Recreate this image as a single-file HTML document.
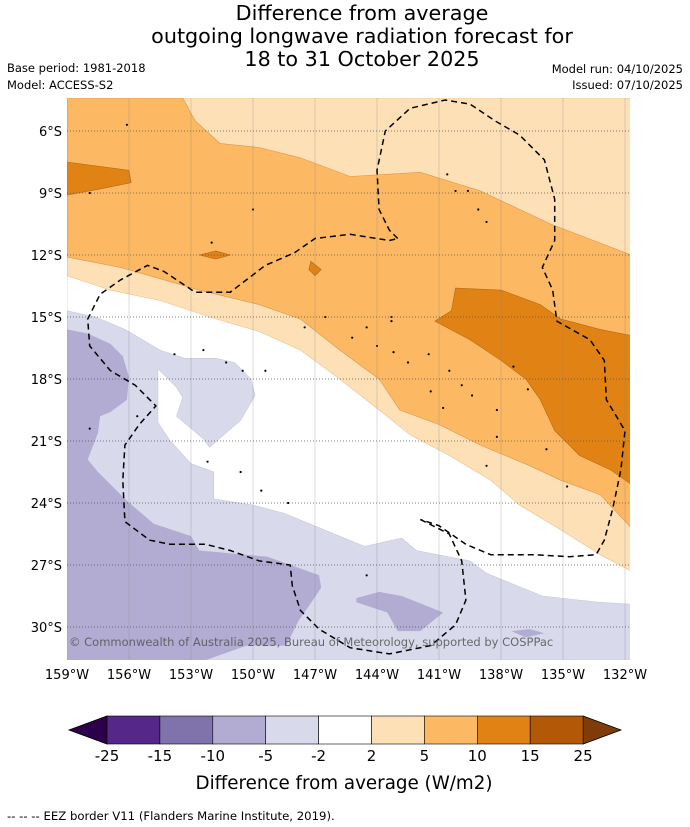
<!DOCTYPE html>
<html><head><meta charset="utf-8"><style>
body{margin:0;background:#fff;font-family:"DejaVu Sans",sans-serif}
svg{display:block}
</style></head><body>
<svg id="chart" width="690" height="827" viewBox="0 0 690 827" xmlns="http://www.w3.org/2000/svg" font-family="DejaVu Sans, sans-serif">
<g font-size="20.7" text-anchor="middle" fill="#000">
<text x="362" y="20">Difference from average</text>
<text x="362" y="43">outgoing longwave radiation forecast for</text>
<text x="362" y="66">18 to 31 October 2025</text>
</g>
<g font-size="11.5" fill="#000">
<text x="7" y="72">Base period: 1981-2018</text>
<text x="7" y="89">Model: ACCESS-S2</text>
<text x="683" y="73" text-anchor="end">Model run: 04/10/2025</text>
<text x="683" y="89" text-anchor="end">Issued: 07/10/2025</text>
</g>
<defs><clipPath id="mapclip"><rect x="67" y="98" width="563" height="562"/></clipPath></defs>
<g id="map" clip-path="url(#mapclip)">
<rect x="67" y="98" width="563" height="562" fill="#fff"/>
</g>
<g id="axes"></g>
<g id="cbar"></g>
<text x="344" y="789" font-size="18.3" text-anchor="middle">Difference from average (W/m2)</text>
<text x="7" y="820" font-size="11.7">--  --  -- EEZ border V11 (Flanders Marine Institute, 2019).</text>
</svg>
<script>
const lonTicks=[-159,-156,-153,-150,-147,-144,-141,-138,-135,-132];
const latTicks=[-6,-9,-12,-15,-18,-21,-24,-27,-30];
const levelLabels=["-25","-15","-10","-5","-2","2","5","10","15","25"];
const lightOrange=[[-159,-4.4],[-131.7,-4.4],[-131.7,-27.3],[-133.2,-26.5],[-135.1,-25.3],[-137.1,-24.1],[-138.5,-22.9],[-140.5,-21.7],[-142.4,-20.7],[-143.9,-19.5],[-145.8,-18.0],[-147.7,-16.6],[-149.7,-15.7],[-152.1,-15.0],[-154.5,-14.2],[-156.9,-13.7],[-159,-13.0]];
const midOrange=[[-159,-4.4],[-153.4,-4.4],[-152.8,-5.5],[-151.6,-6.6],[-149.7,-6.8],[-147.7,-7.3],[-145.3,-8.2],[-141.9,-8.0],[-139.0,-8.9],[-135.6,-10.5],[-131.7,-12.0],[-131.7,-25.2],[-133.2,-23.6],[-135.1,-22.9],[-136.6,-22.2],[-139.0,-21.2],[-141.0,-20.2],[-142.9,-19.5],[-143.9,-18.0],[-145.8,-16.6],[-147.7,-15.1],[-149.7,-14.4],[-152.6,-13.7],[-156.4,-12.6],[-159,-12.1]];
const darkOrangeEast=[[-140.2,-13.6],[-138.0,-13.7],[-136.1,-14.4],[-135.1,-15.1],[-133.2,-15.6],[-131.7,-15.9],[-131.7,-23.1],[-132.7,-22.4],[-134.2,-21.7],[-135.4,-20.5],[-136.1,-19.0],[-136.8,-18.0],[-138.0,-17.1],[-139.5,-16.1],[-141.2,-15.2],[-140.4,-14.7]];
const darkOrangeWest=[[-159,-7.5],[-156.0,-7.9],[-155.9,-8.5],[-157.4,-8.8],[-159,-9.1]];
const darkOrangeSmall=[[-152.6,-12.0],[-151.8,-11.8],[-151.1,-12.0],[-151.8,-12.2]];
const darkOrangeSmall2=[[-147.2,-12.3],[-146.7,-12.7],[-147.0,-13.0],[-147.3,-12.7]];
const lightPurple=[[-159,-14.7],[-157.6,-15.0],[-156.2,-15.6],[-154.5,-16.6],[-153.3,-17.0],[-151.8,-17.0],[-150.9,-17.2],[-150.1,-18.0],[-149.9,-18.8],[-150.6,-20.0],[-152.1,-21.3],[-152.4,-20.9],[-153.7,-19.8],[-153.4,-18.9],[-153.7,-18.4],[-154.6,-17.5],[-154.6,-20.1],[-154.0,-21.0],[-153.0,-22.1],[-151.9,-22.5],[-151.9,-22.9],[-151.9,-23.8],[-150.0,-24.1],[-148.5,-24.5],[-146.8,-25.2],[-144.6,-26.1],[-142.8,-25.7],[-142.1,-26.3],[-139.5,-26.8],[-138.7,-27.4],[-136.0,-28.5],[-133.3,-28.8],[-131.7,-28.9],[-131.7,-31.6],[-159,-31.6]];
const midPurple=[[-159,-15.6],[-158.0,-15.8],[-156.9,-16.3],[-156.3,-16.9],[-156.0,-17.9],[-156.1,-19.0],[-156.9,-19.6],[-157.4,-19.8],[-157.5,-20.6],[-158.0,-21.9],[-157.5,-22.5],[-156.1,-23.9],[-154.8,-25.0],[-153.0,-25.6],[-152.6,-26.3],[-149.3,-26.6],[-146.8,-27.5],[-146.7,-28.1],[-147.1,-28.7],[-147.8,-29.7],[-148.4,-30.9],[-150.3,-30.9],[-152.3,-31.6],[-159,-31.6]];
const midPurpleBlob=[[-145.0,-28.6],[-143.9,-28.3],[-142.8,-28.5],[-140.8,-29.3],[-141.9,-30.2],[-143.0,-30.2],[-143.5,-29.3],[-145.0,-28.8]];
const midPurpleBlob2=[[-137.5,-30.2],[-136.6,-30.1],[-135.9,-30.3],[-136.8,-30.5]];
const eezNorth=[[-143.0,-11.2],[-143.4,-10.8],[-143.9,-9.8],[-144.0,-7.9],[-143.6,-6.0],[-142.4,-4.9],[-140.7,-4.5],[-139.5,-4.7],[-138.3,-5.5],[-137.1,-6.2],[-135.9,-7.4],[-135.4,-9.3],[-135.4,-11.3],[-136.0,-12.6],[-135.5,-13.7],[-135.3,-15.2],[-133.7,-16.1],[-133.0,-17.1],[-132.9,-19.0],[-132.0,-20.5],[-132.2,-22.4],[-132.6,-24.3],[-133.0,-25.8],[-133.4,-26.5],[-134.7,-26.6],[-136.4,-26.5],[-138.5,-26.5],[-139.7,-26.0],[-141.0,-25.1],[-141.9,-24.8]];
const eezSouth=[[-141.9,-24.8],[-140.5,-25.5],[-139.9,-26.8],[-139.7,-28.7],[-140.2,-29.9],[-141.4,-30.9],[-143.4,-31.3],[-145.3,-31.0],[-146.8,-30.1],[-147.7,-29.2],[-148.1,-28.0],[-148.2,-27.0],[-149.7,-26.8],[-151.1,-26.3],[-152.3,-26.0],[-154.0,-26.0],[-155.0,-25.8],[-156.2,-24.9],[-156.3,-22.9],[-156.2,-21.2],[-155.5,-20.2],[-154.7,-19.3],[-155.7,-18.3],[-156.9,-17.6],[-157.9,-16.4],[-158.0,-15.1],[-157.4,-13.9],[-156.4,-13.2],[-155.1,-12.5],[-154.3,-12.8],[-152.8,-13.8],[-151.1,-13.8],[-149.4,-12.5],[-148.0,-11.9],[-147.0,-11.2],[-145.3,-11.0],[-143.4,-11.3],[-143.0,-11.2]];
const islands=[[-143.3,-15.2],[-144.5,-15.5],[-145.2,-16.0],[-144.0,-16.4],[-143.2,-16.7],[-142.5,-17.2],[-141.5,-16.8],[-140.5,-17.6],[-139.9,-18.3],[-141.4,-18.6],[-140.8,-19.4],[-139.4,-18.8],[-138.2,-19.5],[-137.4,-17.4],[-136.7,-18.5],[-135.8,-21.4],[-138.7,-22.2],[-138.2,-20.8],[-134.8,-23.2],[-140.6,-8.1],[-140.2,-8.9],[-139.6,-8.9],[-139.1,-9.8],[-138.7,-10.4],[-150.0,-9.8],[-152.0,-11.4],[-156.1,-5.7],[-157.9,-9.0],[-151.3,-17.2],[-150.5,-17.6],[-153.8,-16.8],[-152.4,-16.6],[-149.4,-17.6],[-155.6,-19.8],[-157.9,-20.4],[-150.6,-22.5],[-152.2,-22.0],[-149.6,-23.4],[-148.3,-24.0],[-144.5,-27.5],[-143.3,-15.0],[-146.5,-15.0],[-147.5,-15.5]];

const NS='http://www.w3.org/2000/svg';
const X=lon=>67+(lon+159)*62/3;
const Y=lat=>131+(-lat-6)*62/3;
const map=document.getElementById('map');
function mk(tag,attrs,parent){const e=document.createElementNS(NS,tag);for(const k in attrs)e.setAttribute(k,attrs[k]);parent.appendChild(e);return e;}
function pts(a){return a.map(p=>X(p[0]).toFixed(1)+','+Y(p[1]).toFixed(1)).join(' ');}
function poly(a,fill,name,stroke){const e=mk('polygon',{points:pts(a),fill:fill,stroke:stroke||'none','stroke-width':0.6},map);

return e;}
poly(lightPurple,'#d8d9ea','contour-minus2-to-minus5','#c8c8de');
poly(midPurple,'#b2abd2','contour-minus5-to-minus10');
poly(midPurpleBlob,'#b2abd2','contour-minus5-to-minus10-blob');
poly(midPurpleBlob2,'#b2abd2','contour-minus5-to-minus10-blob2');
poly(lightOrange,'#fee0b6','contour-2-to-5','#e8c190');
poly(midOrange,'#fdb863','contour-5-to-10','#d9974a');
poly(darkOrangeEast,'#e08214','contour-10-to-15-east','#b86a10');
poly(darkOrangeWest,'#e08214','contour-10-to-15-west','#b86a10');
poly(darkOrangeSmall,'#e08214','contour-10-to-15-small','#b86a10');
poly(darkOrangeSmall2,'#e08214','contour-10-to-15-small2','#b86a10');
islands.forEach(p=>{const c=mk('circle',{cx:X(p[0]),cy:Y(p[1]),r:1.1,fill:'#000'},map);

});
lonTicks.forEach(l=>{const e=mk('line',{x1:X(l),x2:X(l),y1:98,y2:660,stroke:'#888','stroke-width':0.5,'stroke-opacity':0.6},map);

});
latTicks.forEach(l=>{const e=mk('line',{x1:67,x2:630,y1:Y(l),y2:Y(l),stroke:'#555','stroke-width':0.8,'stroke-dasharray':'1,2'},map);

});
[eezNorth,eezSouth].forEach((a,i)=>{const e=mk('polyline',{points:pts(a),fill:'none',stroke:'#000','stroke-width':1.5,'stroke-dasharray':'6,4'},map);

});
const cr=mk('text',{x:69,y:646,'font-size':11.5,fill:'#555','fill-opacity':0.85},map);
cr.textContent='© Commonwealth of Australia 2025, Bureau of Meteorology, supported by COSPPac';



const axes=document.getElementById('axes');
latTicks.forEach(l=>{const t=mk('text',{x:62,y:Y(l)+5,'font-size':13,'text-anchor':'end'},axes);t.textContent=(-l)+'°S';

});
lonTicks.forEach(l=>{const t=mk('text',{x:X(l),y:679,'font-size':13,'text-anchor':'middle'},axes);t.textContent=(-l)+'°W';

});

const cb=document.getElementById('cbar');
const cols=['#542788','#8073ac','#b2abd2','#d8daeb','#ffffff','#fee0b6','#fdb863','#e08214','#b35806'];
const x0=107,w=52.9,yt=716,h=28;
const l=mk('polygon',{points:`69,${yt+h/2} ${x0},${yt} ${x0},${yt+h}`,fill:'#2d004b',stroke:'#000','stroke-width':0.8},cb);


const r=mk('polygon',{points:`${x0+9*w},${yt} 621,${yt+h/2} ${x0+9*w},${yt+h}`,fill:'#7f3b08',stroke:'#000','stroke-width':0.8},cb);


cols.forEach((c,i)=>{const e=mk('rect',{x:x0+i*w,y:yt,width:w,height:h,fill:c,stroke:'#000','stroke-width':0.6},cb);

});
levelLabels.forEach((s,i)=>{const t=mk('text',{x:x0+i*w,y:761,'font-size':15,'text-anchor':'middle'},cb);t.textContent=s;

});
</script>
</body></html>
